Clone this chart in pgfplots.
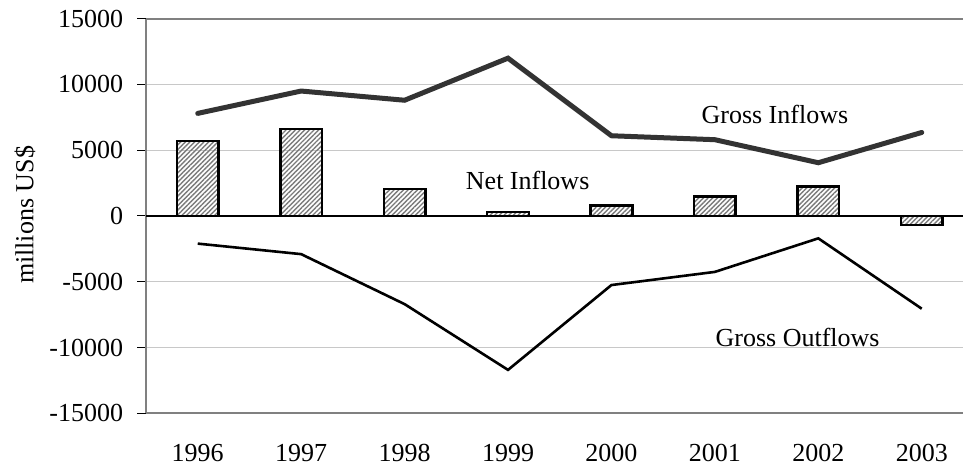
\documentclass[border=0pt]{standalone}
\usepackage{fontspec}
\setmainfont{Liberation Serif}
\usepackage{pgfplots}
\pgfplotsset{compat=1.18}
\usetikzlibrary{patterns.meta}
\definecolor{gridc}{HTML}{C8C8C8}
\definecolor{axc}{HTML}{808080}
\definecolor{inc}{HTML}{333333}
\definecolor{patc}{HTML}{7A7A7A}
\begin{document}
\fontsize{26bp}{30bp}\selectfont
\begin{tikzpicture}[x=1bp,y=1bp]
\path[use as bounding box] (0,0) rectangle (963,472);
\begin{axis}[
  at={(146bp,58.7bp)}, anchor=south west,
  scale only axis, width=817bp, height=394.6bp,
  xmin=-0.5, xmax=7.399, ymin=-15000, ymax=15000,
  axis x line=none,
  axis y line*=left,
  y axis line style={draw=axc, line width=2bp, -},
  ytick={-15000,-10000,-5000,0,5000,10000,15000},
  scaled y ticks=false,
  tick align=outside, major tick length=9bp,
  ytick style={draw=black, line width=1bp},
  ymajorgrids, grid style={draw=gridc, line width=1.2bp},
  /pgf/number format/1000 sep={},
  /pgf/number format/assume math mode=true,
  yticklabel style={font=\fontsize{26bp}{30bp}\selectfont, xshift=-5bp},
  clip=false,
]
\draw[axc, line width=2bp] (axis cs:-0.5,15000) -- (axis cs:7.399,15000);
\draw[axc, line width=2bp] (axis cs:-0.5,-15000) -- (axis cs:7.399,-15000);
\draw[black, line width=1.2bp] (axis cs:-0.5,0) -- (axis cs:7.399,0);
% Net Inflows
\addplot[ybar, bar width=41.6bp, draw=black, line width=2.5bp,
  pattern={Lines[angle=45,distance=3.3bp,line width=1.4bp]}, pattern color=patc]
  coordinates {(0,5700) (1,6600) (2,2050) (3,300) (4,800) (5,1500) (6,2250) (7,-700)};
% Gross Inflows
\addplot[inc, line width=5bp, line cap=round, mark=none]
  coordinates {(0,7800) (1,9500) (2,8800) (3,12000) (4,6100) (5,5800) (6,4050) (7,6350)};
% Gross Outflows
\addplot[black, line width=2.6bp, mark=none]
  coordinates {(0,-2100) (1,-2900) (2,-6700) (3,-11700) (4,-5250) (5,-4250) (6,-1700) (7,-7050)};
\node at (axis cs:5.58,7750) {Gross Inflows};
\node at (axis cs:3.19,2674) {Net Inflows};
\node at (axis cs:5.80,-9220) {Gross Outflows};
% category labels
\foreach \i/\yr in {0/1996,1/1997,2/1998,3/1999,4/2000,5/2001,6/2002,7/2003}{
  \edef\tmp{\noexpand\node at (axis cs:\i,-15000) [yshift=-40bp] {\yr};}\tmp
}
\end{axis}
\node[rotate=90] at (25,257) {millions US\$};
\end{tikzpicture}
\end{document}
